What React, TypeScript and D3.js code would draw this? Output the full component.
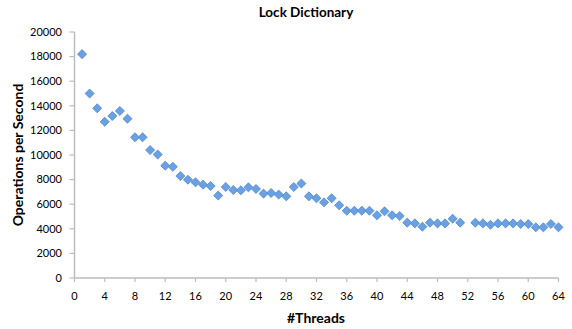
import React from "react";
import * as d3 from "d3";

const threads = [
  1, 2, 3, 4, 5, 6, 7, 8, 9, 10, 11, 12, 13, 14, 15, 16, 17, 18, 19, 20, 21, 22, 23, 24, 25, 26, 27, 28, 29, 30,
  31, 32, 33, 34, 35, 36, 37, 38, 39, 40, 41, 42, 43, 44, 45, 46, 47, 48, 49, 50, 51, 53, 54, 55, 56, 57, 58, 59,
  60, 61, 62, 63, 64,
];
const opsPerSecond = [
  18200, 15000, 13800, 12700, 13170, 13580, 12950, 11440, 11440, 10400, 10040, 9130, 9040, 8290, 7990, 7780, 7590,
  7480, 6700, 7400, 7150, 7130, 7370, 7240, 6860, 6910, 6780, 6640, 7400, 7680, 6640, 6480, 6150, 6480, 5910, 5470,
  5470, 5470, 5470, 5100, 5420, 5100, 5040, 4500, 4440, 4170, 4500, 4440, 4440, 4820, 4500, 4500, 4440, 4330, 4440,
  4440, 4440, 4390, 4390, 4120, 4120, 4390, 4120,
];
const yTicks = [0, 2000, 4000, 6000, 8000, 10000, 12000, 14000, 16000, 18000, 20000];
const xTicks = [0, 4, 8, 12, 16, 20, 24, 28, 32, 36, 40, 44, 48, 52, 56, 60, 64];

const W = 572;
const H = 329;
const FONT = "Lato, 'Open Sans', sans-serif";

export default function App() {
  const x = d3.scaleLinear().domain([0, 64]).range([74.5, 558.5]);
  const y = d3.scaleLinear().domain([0, 20000]).range([278, 32]);
  const diamond = d3.symbol().type(d3.symbolDiamond2).size(52)();
  const axisColor = "#bcbcbc";

  return (
    <svg
      width={W}
      height={H}
      style={{ position: "absolute", left: 0, top: 0, background: "#fff" }}
      fontFamily={FONT}
    >
      <text x={306} y={17} textAnchor="middle" fontSize={13.5} fontWeight={700} fill="#000">
        Lock Dictionary
      </text>
      {/* y axis */}
      <line x1={x(0)} x2={x(0)} y1={y(20000)} y2={y(0)} stroke={axisColor} strokeWidth={1.5} />
      {yTicks.map((t) => (
        <g key={"y" + t}>
          <line x1={x(0) - 5} x2={x(0)} y1={y(t)} y2={y(t)} stroke={axisColor} strokeWidth={1.2} />
          <text x={62} y={y(t)} dy="0.35em" textAnchor="end" fontSize={11} fill="#000">
            {t}
          </text>
        </g>
      ))}
      {/* x axis */}
      <line x1={x(0)} x2={x(64)} y1={y(0)} y2={y(0)} stroke={axisColor} strokeWidth={1.5} />
      {xTicks.map((t) => (
        <g key={"x" + t}>
          <line x1={x(t)} x2={x(t)} y1={y(0)} y2={y(0) + 4} stroke={axisColor} strokeWidth={1.2} />
          <text x={x(t)} y={300} textAnchor="middle" fontSize={11} fill="#000">
            {t}
          </text>
        </g>
      ))}
      <text x={316} y={323} textAnchor="middle" fontSize={14} fontWeight={700} fill="#000">
        #Threads
      </text>
      <text
        transform={`translate(23,155) rotate(-90)`}
        textAnchor="middle"
        fontSize={14}
        fontWeight={700}
        fill="#000"
      >
        Operations per Second
      </text>
      {threads.map((t, i) => (
        <path
          key={"p" + t}
          d={diamond as string}
          transform={`translate(${x(t)},${y(opsPerSecond[i])})`}
          fill="#6aa1e4"
          stroke="#4f86cc"
          strokeWidth={0.8}
        />
      ))}
    </svg>
  );
}
